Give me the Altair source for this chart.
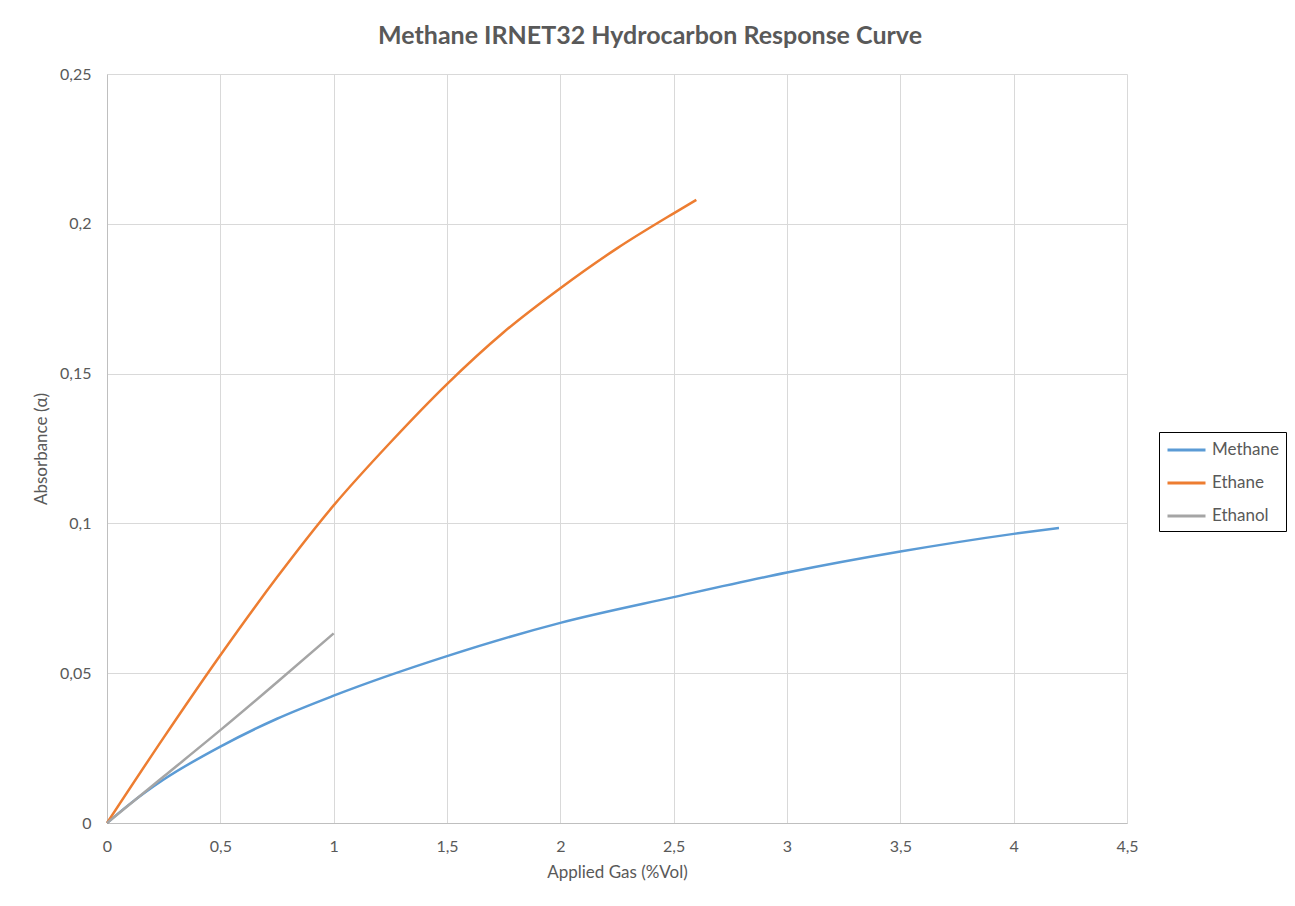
import altair as alt
import pandas as pd

series_names = ["Methane", "Ethane", "Ethanol"]
series_colors = ["#5B9BD5", "#ED7D31", "#A5A5A5"]

methane_x = [0, 0.1, 0.25, 0.5, 0.75, 1, 1.5, 2, 2.5, 3, 3.5, 4, 4.2]
methane_y = [0, 0.0063, 0.0145, 0.0255, 0.0348, 0.0425, 0.0557, 0.0668, 0.0754, 0.0836, 0.0906, 0.0965, 0.0985]

ethane_x = [0, 0.25, 0.5, 0.75, 1, 1.25, 1.5, 1.75, 2, 2.25, 2.5, 2.6]
ethane_y = [0, 0.0285, 0.056, 0.082, 0.106, 0.127, 0.1465, 0.1638, 0.1785, 0.1918, 0.2035, 0.208]

ethanol_x = [0, 0.25, 0.5, 0.75, 1]
ethanol_y = [0, 0.0155, 0.031, 0.047, 0.0633]

x_ticks = [0, 0.5, 1, 1.5, 2, 2.5, 3, 3.5, 4, 4.5]
y_ticks = [0, 0.05, 0.1, 0.15, 0.2, 0.25]

rows = []
for name, xs, ys in zip(series_names, [methane_x, ethane_x, ethanol_x], [methane_y, ethane_y, ethanol_y]):
    for i, (xv, yv) in enumerate(zip(xs, ys)):
        rows.append({"series": name, "x": xv, "y": yv, "order": i})
df = pd.DataFrame(rows)

FONT = "Lato"
TXT = "#595959"
label_expr = "replace(format(datum.value, '~g'), '.', ',')"

chart = alt.Chart(df).mark_line(strokeWidth=2.5, interpolate="monotone").encode(
    x=alt.X("x:Q", scale=alt.Scale(domain=[0, 4.5], nice=False),
            axis=alt.Axis(values=x_ticks, labelExpr=label_expr, title="Applied Gas (%Vol)",
                          grid=True, ticks=False, labelFlush=False, labelPadding=15,
                          titlePadding=10)),
    y=alt.Y("y:Q", scale=alt.Scale(domain=[0, 0.25], nice=False),
            axis=alt.Axis(values=y_ticks, labelExpr=label_expr, title="Absorbance (α)",
                          grid=True, ticks=False, labelFlush=False, labelPadding=16,
                          titlePadding=9)),
    color=alt.Color("series:N", scale=alt.Scale(domain=series_names, range=series_colors),
                    legend=alt.Legend(title=None, orient="none", legendX=1052, legendY=358,
                                      symbolType="M-1,0H3", symbolSize=361, symbolStrokeWidth=3,
                                      labelFontSize=17, labelColor=TXT, labelFont=FONT,
                                      strokeColor="black", fillColor="white", padding=7,
                                      rowPadding=14, labelOffset=24)),
    order="order:Q",
).properties(
    width=1020, height=749,
    padding={"left": 99, "top": 66, "right": 160, "bottom": 60},
    autosize=alt.AutoSizeParams(type="none"),
    title=alt.TitleParams("Methane IRNET32 Hydrocarbon Response Curve", fontSize=25,
                          font=FONT, fontWeight="bold", color=TXT, offset=17, dx=33,
                          anchor="middle"),
).configure_axis(
    gridColor="#D9D9D9", domainColor="#BFBFBF", labelColor=TXT, labelFontSize=16,
    labelFont=FONT, titleColor=TXT, titleFontSize=17, titleFont=FONT, titleFontWeight="normal",
    gridWidth=1, domainWidth=1,
).configure_view(stroke=None)

chart.save("out.html", embed_options={"renderer": "svg", "actions": False})
